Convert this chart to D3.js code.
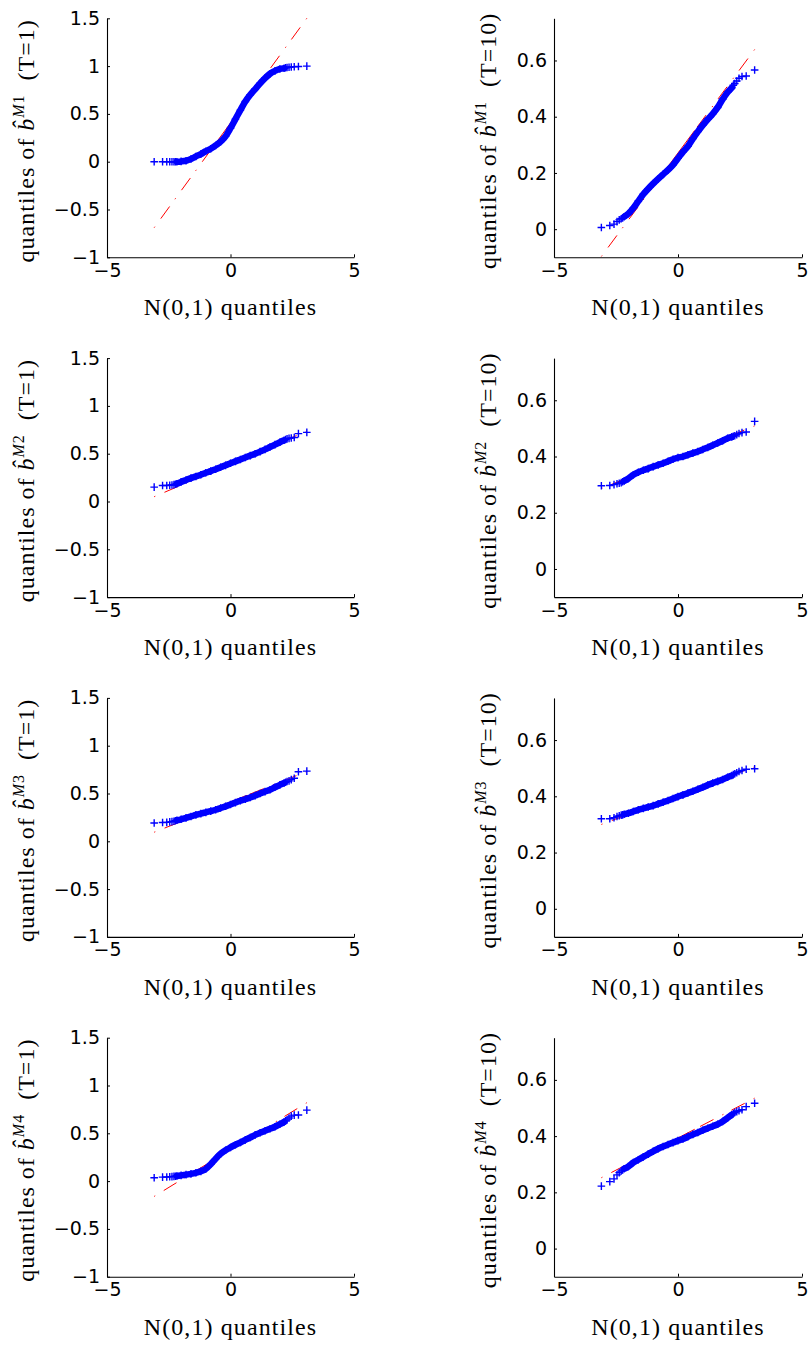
<!DOCTYPE html>
<html><head><meta charset="utf-8">
<script src="https://cdn.jsdelivr.net/npm/d3@7"></script>
<style>
html,body{margin:0;padding:0;background:#fff;}
svg{display:block;}
</style></head><body>
<svg id="chart" width="810" height="1347"></svg>
<script>
// N(0,1) quantiles at which the sample quantiles were read
const qx = [-3.09,-2.75,-2.58,-2.46,-2.37,-2.29,-2.23,-2.17,-2.0,-1.8,-1.6,-1.4,-1.2,-1.0,-0.8,-0.6,-0.4,-0.2,0,0.2,0.4,0.6,0.8,1.0,1.2,1.4,1.6,1.8,2.0,2.17,2.23,2.29,2.37,2.46,2.58,2.75,3.09];

// sample quantiles of b-hat for each model / horizon
const m1t1  = [0,0,0,0,0,0,0,0,0.003,0.01,0.028,0.055,0.08,0.11,0.135,0.17,0.21,0.265,0.35,0.445,0.54,0.63,0.70,0.76,0.82,0.875,0.92,0.95,0.97,0.978,0.982,0.985,0.988,0.99,0.993,0.996,1.0];
const m1t10 = [0.006,0.013,0.018,0.027,0.033,0.037,0.040,0.044,0.055,0.075,0.100,0.124,0.144,0.162,0.179,0.195,0.211,0.229,0.252,0.275,0.295,0.322,0.347,0.370,0.391,0.41,0.433,0.462,0.487,0.503,0.512,0.518,0.527,0.537,0.543,0.545,0.566];
const m2t1  = [0.15,0.167,0.168,0.17,0.172,0.176,0.18,0.185,0.205,0.225,0.245,0.262,0.28,0.30,0.318,0.338,0.358,0.378,0.40,0.42,0.44,0.46,0.48,0.50,0.522,0.545,0.57,0.595,0.62,0.64,0.648,0.655,0.66,0.665,0.67,0.71,0.723];
const m2t10 = [0.296,0.297,0.30,0.303,0.305,0.307,0.31,0.313,0.322,0.335,0.344,0.351,0.357,0.364,0.37,0.376,0.383,0.39,0.396,0.40,0.406,0.412,0.418,0.425,0.432,0.44,0.448,0.456,0.465,0.47,0.472,0.474,0.478,0.482,0.485,0.487,0.525];
const m3t1  = [0.192,0.196,0.198,0.203,0.206,0.21,0.215,0.22,0.23,0.245,0.26,0.276,0.29,0.303,0.316,0.33,0.348,0.366,0.385,0.405,0.424,0.44,0.458,0.478,0.50,0.52,0.54,0.565,0.59,0.61,0.618,0.625,0.632,0.645,0.66,0.727,0.734];
const m3t10 = [0.32,0.32,0.324,0.328,0.331,0.333,0.334,0.336,0.34,0.346,0.352,0.357,0.362,0.367,0.373,0.379,0.385,0.392,0.399,0.405,0.412,0.418,0.425,0.432,0.44,0.447,0.453,0.46,0.468,0.474,0.477,0.48,0.484,0.488,0.492,0.496,0.498];
const m4t1  = [0.035,0.042,0.043,0.045,0.047,0.049,0.051,0.053,0.06,0.068,0.076,0.087,0.102,0.128,0.177,0.235,0.285,0.322,0.352,0.38,0.404,0.431,0.456,0.484,0.505,0.526,0.547,0.568,0.595,0.62,0.63,0.64,0.66,0.68,0.69,0.692,0.742];
const m4t10 = [0.222,0.238,0.248,0.262,0.27,0.276,0.28,0.284,0.292,0.306,0.316,0.326,0.336,0.346,0.355,0.363,0.37,0.377,0.384,0.39,0.398,0.406,0.413,0.421,0.428,0.435,0.442,0.452,0.465,0.476,0.48,0.484,0.487,0.49,0.494,0.505,0.517];

// reference lines: x extent of the data, y of the line at those x
const refX = [-3.09, 3.09];
const quartileX = [-0.674, 0.674];
const lineM1T1 = [-0.69, 1.50];
const lineM1T10 = [-0.097, 0.639];
const lineM2T1 = [0.05, 0.736];
const lineM2T10 = [0.286, 0.509];
const lineM3T1 = [0.095, 0.73];
const lineM3T10 = [0.30, 0.505];
const lineM4T1 = [-0.16, 0.82];
const lineM4T10 = [0.252, 0.535];

// axes
const xDomain = [-5, 5];
const xTicks = [-5, 0, 5];
const xTickLabels = ["\u22125", "0", "5"];
const yDomainT1 = [-1, 1.5];
const yTicksT1 = [-1, -0.5, 0, 0.5, 1, 1.5];
const yTickLabelsT1 = ["\u22121", "\u22120.5", "0", "0.5", "1", "1.5"];
const yDomainT10 = [-0.1, 0.75];
const yTicksT10 = [0, 0.2, 0.4, 0.6];
const yTickLabelsT10 = ["0", "0.2", "0.4", "0.6"];

const models = ["M1", "M2", "M3", "M4"];
const horizons = ["1", "10"];
const sampleData = [[m1t1, m1t10], [m2t1, m2t10], [m3t1, m3t10], [m4t1, m4t10]];
const lineData = [[lineM1T1, lineM1T10], [lineM2T1, lineM2T10], [lineM3T1, lineM3T10], [lineM4T1, lineM4T10]];

// ---------------- layout ----------------
const svg = d3.select("#chart");
const colX = [[107, 354], [554, 802]];
const rowPitch = 339.8, top0 = 18.3, bot0 = 257.3;
const ylabX = [34, 496];
const tickFont = "'DejaVu Sans', Verdana, sans-serif";
const serif = "'Liberation Serif', 'Times New Roman', serif";
const BLUE = "#0000ff", RED = "#ff0000";

models.forEach((model, r) => {
  horizons.forEach((T, c) => {
    const vals = sampleData[r][c];
    const ln = lineData[r][c];
    const top = top0 + rowPitch * r, bot = bot0 + rowPitch * r;
    const x = d3.scaleLinear().domain(xDomain).range(colX[c]);
    const y = d3.scaleLinear().domain(c === 0 ? yDomainT1 : yDomainT10).range([bot, top]);
    const g = svg.append("g");

    // reference line (dash-dot outside the quartiles, solid between)
    const lineY = v => ln[0] + (ln[1] - ln[0]) * (v - refX[0]) / (refX[1] - refX[0]);
    const seg = (a, b) => `M${x(a)},${y(lineY(a))}L${x(b)},${y(lineY(b))}`;
    g.append("path").attr("d", seg(refX[0], quartileX[0]))
      .attr("stroke", RED).attr("stroke-width", 1).attr("fill", "none")
      .attr("stroke-dasharray", "1.2,10,15,9");
    g.append("path").attr("d", seg(quartileX[0], quartileX[1]))
      .attr("stroke", RED).attr("stroke-width", 1).attr("fill", "none");
    g.append("path").attr("d", seg(refX[1], quartileX[1]))
      .attr("stroke", RED).attr("stroke-width", 1).attr("fill", "none")
      .attr("stroke-dasharray", "1.2,10,15,9");

    // dense band of markers
    const pts = qx.map((q, i) => [q, vals[i]]);
    const dense = pts.filter(p => Math.abs(p[0]) <= 2.2);
    g.append("path").datum(dense)
      .attr("d", d3.line().curve(d3.curveMonotoneX).x(p => x(p[0])).y(p => y(p[1])))
      .attr("fill", "none").attr("stroke", BLUE).attr("stroke-width", 6.5)
      .attr("stroke-linejoin", "round").attr("stroke-linecap", "round");
    // "+" markers
    g.selectAll("path.mk").data(pts).enter().append("path").attr("class", "mk")
      .attr("transform", p => `translate(${x(p[0])},${y(p[1])})`)
      .attr("d", "M-3.8,0H3.8M0,-3.8V3.8")
      .attr("stroke", BLUE).attr("stroke-width", 1.4).attr("fill", "none");

    // axes
    const yt = c === 0 ? yTicksT1 : yTicksT10;
    const ytl = c === 0 ? yTickLabelsT1 : yTickLabelsT10;
    const ax = g.append("g").attr("transform", `translate(0,${bot})`)
      .call(d3.axisBottom(x).tickValues(xTicks).tickFormat((d, i) => xTickLabels[i])
        .tickSizeInner(-3).tickSizeOuter(0).tickPadding(6));
    const ay = g.append("g").attr("transform", `translate(${colX[c][0]},0)`)
      .call(d3.axisLeft(y).tickValues(yt).tickFormat((d, i) => ytl[i])
        .tickSizeInner(-3).tickSizeOuter(0).tickPadding(7));
    [ax, ay].forEach(a => {
      a.selectAll("path.domain").attr("stroke", "#000").attr("stroke-width", 1.1);
      a.selectAll(".tick line").attr("stroke", "#000").attr("stroke-width", 1);
      a.selectAll("text").attr("font-family", tickFont).attr("font-size", 19).attr("fill", "#000");
    });

    // x label
    g.append("text").attr("x", x(0)).attr("y", bot + 58)
      .attr("text-anchor", "middle").attr("font-family", serif).attr("font-size", 24)
      .attr("letter-spacing", 1.1)
      .attr("fill", "#000").text("N(0,1) quantiles");

    // y label
    const cy = (top + bot) / 2 + 3;
    const yl = g.append("text")
      .attr("transform", `translate(${ylabX[c]},${cy}) rotate(-90)`)
      .attr("text-anchor", "middle").attr("font-family", serif).attr("font-size", 24)
      .attr("letter-spacing", 1)
      .attr("fill", "#000").style("white-space", "pre");
    yl.append("tspan").text("quantiles of ");
    yl.append("tspan").attr("font-style", "italic").text("b\u0302");
    yl.append("tspan").attr("font-style", "italic").attr("font-size", 16).attr("dy", -10).text(model[0]);
    yl.append("tspan").attr("font-size", 16).text(model.slice(1));
    yl.append("tspan").attr("dy", 10).text("  (T=" + T + ")");
  });
});
</script>
</body></html>
